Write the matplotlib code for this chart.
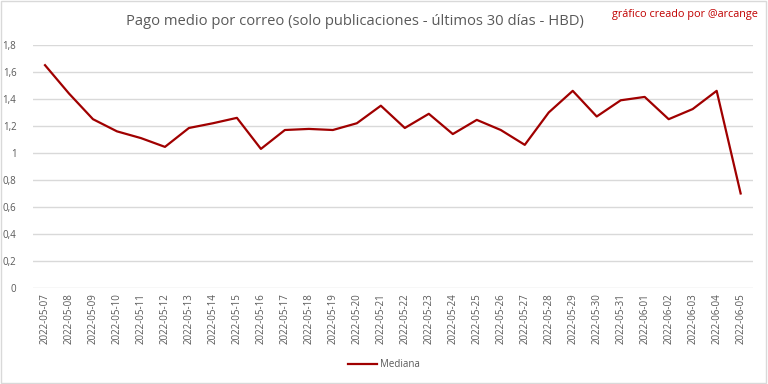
import matplotlib.pyplot as plt
from matplotlib.patches import Rectangle

fechas = ["2022-05-07", "2022-05-08", "2022-05-09", "2022-05-10", "2022-05-11",
          "2022-05-12", "2022-05-13", "2022-05-14", "2022-05-15", "2022-05-16",
          "2022-05-17", "2022-05-18", "2022-05-19", "2022-05-20", "2022-05-21",
          "2022-05-22", "2022-05-23", "2022-05-24", "2022-05-25", "2022-05-26",
          "2022-05-27", "2022-05-28", "2022-05-29", "2022-05-30", "2022-05-31",
          "2022-06-01", "2022-06-02", "2022-06-03", "2022-06-04", "2022-06-05"]
mediana = [1.65, 1.44, 1.25, 1.16, 1.11, 1.045, 1.185, 1.22, 1.26, 1.03,
           1.17, 1.178, 1.17, 1.22, 1.35, 1.185, 1.29, 1.14, 1.245, 1.17,
           1.06, 1.30, 1.46, 1.27, 1.39, 1.415, 1.25, 1.325, 1.46, 0.70]
yticks = [0, 0.2, 0.4, 0.6, 0.8, 1, 1.2, 1.4, 1.6, 1.8]
ytick_labels = ["0", "0,2", "0,4", "0,6", "0,8", "1", "1,2", "1,4", "1,6", "1,8"]

plt.rcParams["font.family"] = ["Open Sans", "DejaVu Sans"]

fig = plt.figure(figsize=(7.68, 3.84), dpi=100)
ax = fig.add_axes([0.043, 0.25, 0.937, 0.633])

x = list(range(len(fechas)))
ax.plot(x, mediana, color="#a00000", linewidth=1.6, label="Mediana")

ax.set_xlim(-0.5, len(fechas) - 0.5)
ax.set_ylim(0, 1.8)
ax.set_yticks(yticks)
ax.set_yticklabels(ytick_labels)
ax.set_xticks(x)
ax.set_xticklabels(fechas, rotation=90)
ax.tick_params(axis="both", length=0, labelsize=7, colors="#595959")
ax.tick_params(axis="y", pad=12)
ax.tick_params(axis="x", pad=4)
ax.grid(axis="y", color="#d9d9d9", linewidth=1)
ax.set_axisbelow(True)
for s in ax.spines.values():
    s.set_visible(False)

fig.text(0.462, 0.945, "Pago medio por correo (solo publicaciones - últimos 30 días - HBD)",
         ha="center", va="center", fontsize=10.6, color="#595959")
fig.text(0.892, 0.962, "gráfico creado por @arcange", ha="center", va="center",
         fontsize=7.8, color="#c00000")

fig.legend(loc="center", bbox_to_anchor=(0.5, 0.05), frameon=False, fontsize=7,
           labelcolor="#595959", handlelength=3, handletextpad=0.3)

# light grey frame round the whole picture
fig.patches.append(Rectangle((0.001, 0.002), 0.997, 0.995, transform=fig.transFigure,
                             fill=False, edgecolor="#d9d9d9", linewidth=1))

fig.savefig("out.png", dpi=100)
